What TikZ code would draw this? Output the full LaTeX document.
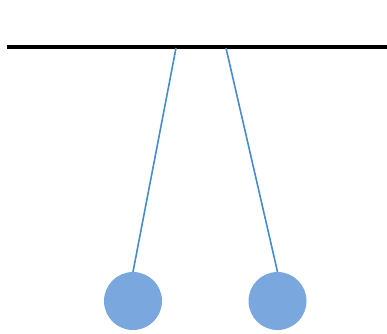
\documentclass[tikz,border=0pt]{standalone}
\usetikzlibrary{calc}
\definecolor{ballblue}{RGB}{122,168,222}
\definecolor{stringblue}{RGB}{70,140,205}
\tikzset{
  bar/.style={line width=4pt,black},
  pstring/.style={line width=1.6pt,stringblue},
  bob/.style={circle,fill=ballblue,draw=none,minimum size=58pt,inner sep=0pt}
}
\begin{document}
\begin{tikzpicture}[x=1pt,y=-1pt]
\useasboundingbox (0,0) rectangle (387,333);
\coordinate (barL) at (7,46.5);
\coordinate (barR) at (387,46.5);
\draw[bar] (barL) -- (barR);
\coordinate (pivL) at (176,48);
\coordinate (pivR) at (226,48);
\node[bob] (ballL) at (133,301) {};
\node[bob] (ballR) at (277.5,301) {};
\draw[pstring] (pivL) -- (ballL.north);
\draw[pstring] (pivR) -- (ballR.north);
\end{tikzpicture}
\end{document}
